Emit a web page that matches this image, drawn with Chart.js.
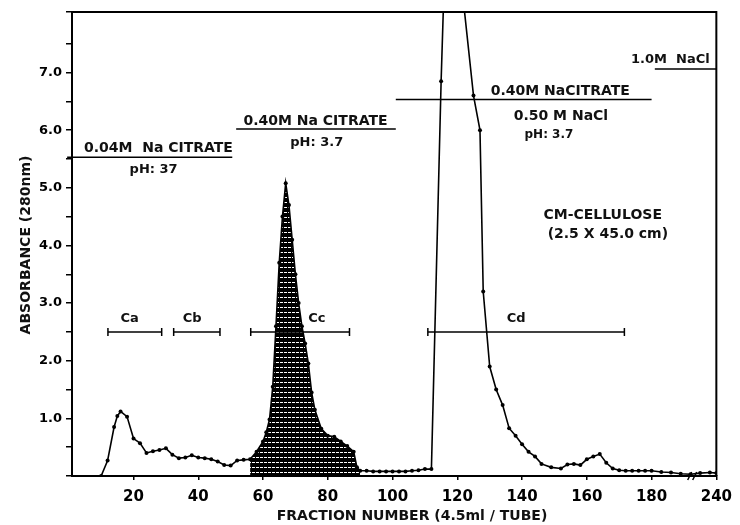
<!DOCTYPE html>
<html>
<head>
<meta charset="utf-8">
<script src="https://cdn.jsdelivr.net/npm/chart.js@4/dist/chart.umd.min.js"></script>
<style>
  body { margin: 0; background: #fff; }
</style>
</head>
<body>
<canvas id="grafica" width="740" height="525"></canvas>
<script>
// elution profile (fraction number / absorbance at 280 nm)
const fraccion = [10, 12, 14, 15, 16, 18, 20, 22, 24, 26, 28, 30, 32, 34, 36, 38, 40, 42, 44, 46, 48, 50, 52, 54, 56, 58,
  60, 61, 62, 63, 64, 65, 66, 67, 68, 69, 70, 71, 72, 73, 74, 75, 76, 78, 80, 82, 84, 86, 88, 89, 90,
  92, 94, 96, 98, 100, 102, 104, 106, 108, 110, 112, 115, 117, 119, 121, 125, 127, 128, 130, 132, 134, 136, 138,
  140, 142, 144, 146, 149, 152, 154, 156, 158, 160, 162, 164, 166, 168, 170, 172, 174, 176, 178, 180,
  183, 186, 189, 192, 195, 198, 200];
const absorbancia = [0.0, 0.27, 0.85, 1.04, 1.12, 1.03, 0.65, 0.57, 0.40, 0.43, 0.45, 0.48, 0.37, 0.31, 0.32, 0.36, 0.32, 0.31, 0.29, 0.25, 0.19, 0.18, 0.27, 0.28, 0.29, 0.42,
  0.60, 0.76, 0.98, 1.55, 2.6, 3.7, 4.5, 5.08, 4.7, 4.1, 3.5, 3.0, 2.6, 2.3, 1.95, 1.45, 1.15, 0.82, 0.70, 0.68, 0.60, 0.52, 0.42, 0.15, 0.09,
  0.09, 0.08, 0.08, 0.08, 0.08, 0.08, 0.08, 0.09, 0.10, 0.12, 0.12, 6.85, 10.5, 11.5, 8.7, 6.6, 6.0, 3.2, 1.9, 1.5, 1.23, 0.83, 0.70,
  0.55, 0.42, 0.34, 0.21, 0.15, 0.13, 0.20, 0.21, 0.19, 0.29, 0.34, 0.38, 0.23, 0.13, 0.10, 0.09, 0.09, 0.09, 0.09, 0.09,
  0.07, 0.06, 0.04, 0.03, 0.05, 0.06, 0.05];

// shaded peak (Cc)
const picoSombreado = [56, 90];

// buffer steps
const bufferInicio = [-0.5, 51.7, 101, 181];
const bufferFin = [50.5, 101, 180, 200];
const bufferNivel = [5.53, 6.02, 6.53, 7.06];

// pooled fractions
const grupos = ['Ca', 'Cb', 'Cc', 'Cd'];
const grupoInicio = [12.1, 32.4, 56.2, 110.9];
const grupoFin = [28.7, 46.7, 86.7, 171.6];
const grupoNivel = 2.5;

// axis ticks
const ticksX = [20, 40, 60, 80, 100, 120, 140, 160, 180, 200];
const etiquetasX = ['20', '40', '60', '80', '100', '120', '140', '160', '180', '240'];

const notas = [
  { t: '0.04M  Na CITRATE', x: 27.7, y: 5.68, s: 14 },
  { t: 'pH: 37', x: 26.2, y: 5.31, s: 13 },
  { t: '0.40M Na CITRATE', x: 76.2, y: 6.15, s: 14 },
  { t: 'pH: 3.7', x: 76.6, y: 5.79, s: 13 },
  { t: '0.40M NaCITRATE', x: 151.8, y: 6.67, s: 14 },
  { t: '0.50 M NaCl', x: 152, y: 6.24, s: 14 },
  { t: 'pH: 3.7', x: 148.3, y: 5.92, s: 12 },
  { t: '1.0M  NaCl', x: 185.8, y: 7.22, s: 13 },
  { t: 'CM-CELLULOSE', x: 164.9, y: 4.53, s: 14 },
  { t: '(2.5 X 45.0 cm)', x: 166.5, y: 4.2, s: 14 },
  { t: 'Ca', x: 18.8, y: 2.73, s: 13 },
  { t: 'Cb', x: 38.1, y: 2.73, s: 13 },
  { t: 'Cc', x: 76.6, y: 2.73, s: 13 },
  { t: 'Cd', x: 138.2, y: 2.73, s: 13 }
];

Chart.defaults.font.family = '"DejaVu Sans", sans-serif';
Chart.defaults.color = '#000';

function trama() {
  const c = document.createElement('canvas');
  c.width = 4; c.height = 5;
  const g = c.getContext('2d');
  g.fillStyle = '#000';
  g.fillRect(0, 0, 4, 5);
  g.fillStyle = '#fff';
  g.fillRect(0, 2, 3, 1);
  return g.createPattern(c, 'repeat');
}

const curva = fraccion.map((f, i) => ({ x: f, y: absorbancia[i] }));
const sombra = curva.filter(p => p.x >= picoSombreado[0] && p.x <= picoSombreado[1]);

const datasets = [
  {
    label: 'A280',
    data: curva,
    borderColor: '#000',
    borderWidth: 1.6,
    pointRadius: 2,
    pointBackgroundColor: '#000',
    pointBorderWidth: 0,
    tension: 0,
    order: 0
  },
  {
    label: 'Cc',
    data: sombra,
    borderWidth: 0,
    pointRadius: 0,
    fill: 'origin',
    backgroundColor: trama(),
    order: 5
  }
];

bufferNivel.forEach((nivel, i) => {
  datasets.push({
    data: [{ x: bufferInicio[i], y: nivel }, { x: bufferFin[i], y: nivel }],
    borderColor: '#000',
    borderWidth: 1.5,
    pointRadius: 0,
    clip: false,
    order: 1
  });
});

grupos.forEach((g, i) => {
  datasets.push({
    data: [{ x: grupoInicio[i], y: grupoNivel }, { x: grupoFin[i], y: grupoNivel }],
    borderColor: '#000',
    borderWidth: 1.5,
    pointStyle: 'line',
    pointRotation: 90,
    pointRadius: 4,
    pointBorderWidth: 1.5,
    order: 1
  });
});

const anotaciones = {
  id: 'anotaciones',
  afterDatasetsDraw(chart) {
    const { ctx, chartArea: a, scales: { x, y } } = chart;
    ctx.save();
    // marco superior y derecho
    ctx.strokeStyle = '#000';
    ctx.lineWidth = 2;
    ctx.beginPath();
    ctx.moveTo(a.left, a.top);
    ctx.lineTo(a.right, a.top);
    ctx.lineTo(a.right, a.bottom);
    ctx.stroke();

    // corte del eje
    const bx = x.getPixelForValue(193), by = y.getPixelForValue(0);
    ctx.lineWidth = 1.5;
    ctx.beginPath();
    ctx.moveTo(bx - 6, by + 4); ctx.lineTo(bx - 2, by - 4);
    ctx.moveTo(bx - 1, by + 4); ctx.lineTo(bx + 3, by - 4);
    ctx.stroke();

    ctx.fillStyle = '#111';
    ctx.textAlign = 'center';
    ctx.textBaseline = 'middle';
    notas.forEach(n => {
      ctx.font = 'bold ' + n.s + 'px "DejaVu Sans"';
      ctx.fillText(n.t, x.getPixelForValue(n.x), y.getPixelForValue(n.y));
    });

    ctx.font = 'bold 14px "DejaVu Sans"';
    ctx.fillText('FRACTION NUMBER (4.5ml / TUBE)', 412, 516);
    ctx.translate(26, 245);
    ctx.rotate(-Math.PI / 2);
    ctx.fillText('ABSORBANCE (280nm)', 0, 0);
    ctx.restore();
  }
};

new Chart(document.getElementById('grafica'), {
  type: 'line',
  data: { datasets: datasets },
  options: {
    responsive: false,
    animation: false,
    layout: { padding: { top: 12, right: 22, left: 0, bottom: 0 } },
    plugins: { legend: { display: false }, tooltip: { enabled: false } },
    scales: {
      x: {
        type: 'linear',
        min: 1,
        max: 200,
        afterBuildTicks: s => { s.ticks = ticksX.map(v => ({ value: v })); },
        afterFit: s => { s.height = 49; },
        ticks: {
          callback: v => etiquetasX[ticksX.indexOf(v)],
          font: { size: 15, weight: 'bold' },
          padding: 8,
          maxRotation: 0
        },
        grid: { drawOnChartArea: false, tickLength: 4, color: '#000', lineWidth: 1.5 },
        border: { color: '#000', width: 2 }
      },
      y: {
        min: 0,
        max: 8.05,
        afterFit: s => { s.width = 72; },
        ticks: {
          stepSize: 0.5,
          callback: v => (Number.isInteger(v) && v >= 1 && v <= 7) ? v.toFixed(1) : '',
          font: { size: 13, weight: 'bold' },
          padding: 4
        },
        grid: { drawOnChartArea: false, tickLength: 6, color: '#000', lineWidth: 1.5 },
        border: { color: '#000', width: 2 }
      }
    }
  },
  plugins: [anotaciones]
});
</script>
</body>
</html>
